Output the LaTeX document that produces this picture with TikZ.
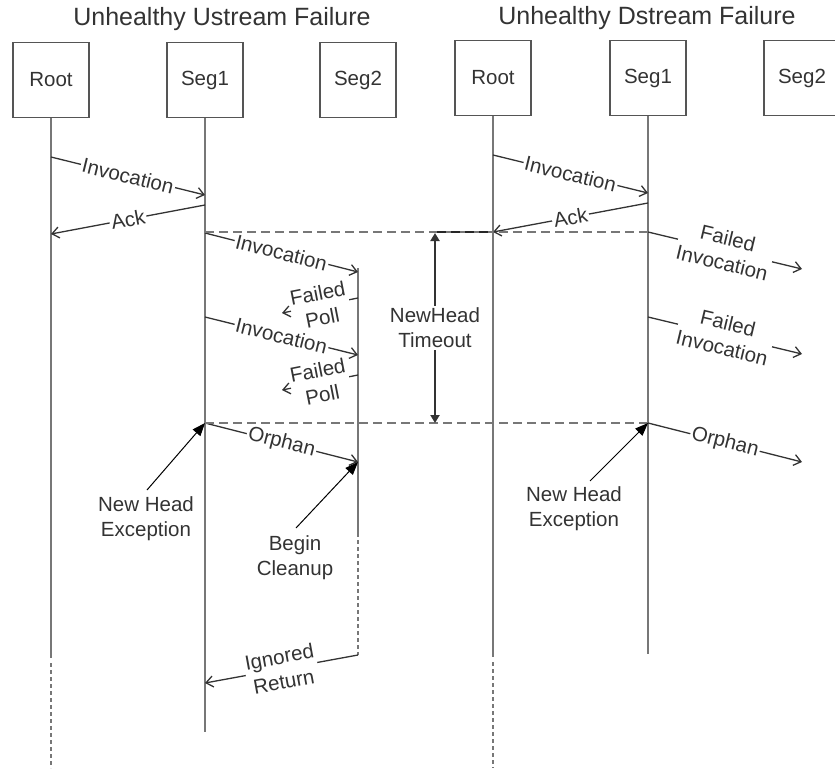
\documentclass[tikz,border=0pt]{standalone}
\usepackage{fontspec}
\setmainfont{Liberation Sans}
\usetikzlibrary{arrows.meta}
\definecolor{ink}{HTML}{333333}
\definecolor{lifec}{HTML}{777777}
\definecolor{framec}{HTML}{555555}
\definecolor{msgc}{HTML}{333333}

\begin{document}
\begin{tikzpicture}[x=1pt,y=-1pt,
  every node/.style={text=ink, font=\fontsize{20.5}{25}\selectfont},
  heading/.style={font=\fontsize{25}{30}\selectfont},
  actor/.style={draw=framec, line width=1.6pt, minimum width=76pt, minimum height=75pt, inner sep=0pt},
  lifeline/.style={draw=lifec, line width=2pt},
  lifedash/.style={draw=lifec, line width=2pt, dash pattern=on 4pt off 3pt},
  msgline/.style={draw=msgc, line width=1.3pt, -{Straight Barb[length=7pt,width=11pt,line width=1.3pt]}},
  tag/.style={fill=white, inner sep=1.5pt, sloped, align=center},
  guide/.style={draw=lifec, line width=2pt, dash pattern=on 9pt off 5pt},
  darkguide/.style={draw=black!85, line width=1.5pt, dash pattern=on 9pt off 5pt},
  callout/.style={draw=black, line width=1pt, -{Triangle[length=13pt,width=10pt]}},
  spanarrow/.style={draw=black!80, line width=2pt, {Triangle[length=8pt,width=9pt]}-{Triangle[length=8pt,width=9pt]}},
]
\useasboundingbox (0,0) rectangle (835,771);
\clip (0,0) rectangle (835,771);

% ---------- titles ----------
\node[heading] (titleA) at (222,19) {Unhealthy Ustream Failure};
\node[heading] (titleB) at (647,18) {Unhealthy Dstream Failure};

% ---------- participants ----------
\node[actor] (rootA) at (51,80)  {Root};
\node[actor] (seg1A) at (205,80) {Seg1};
\node[actor] (seg2A) at (358,80) {Seg2};
\node[actor] (rootB) at (493,78) {Root};
\node[actor] (seg1B) at (648,78) {Seg1};
\node[actor] (seg2B) at (802,78) {Seg2};

% ---------- lifelines, upstream case ----------
\coordinate (rootAend) at (51,658);
\coordinate (rootAdash) at (51,663);
\coordinate (rootAtail) at (51,768);
\coordinate (seg1Aend) at (205,732);
\coordinate (seg2Atop) at (358,268);
\coordinate (seg2Aend) at (358,537);
\coordinate (seg2Adash) at (358,540);
\coordinate (seg2Atail) at (358,655);
\draw[lifeline] (rootA.south) -- (rootAend);
\draw[lifedash] (rootAdash) -- (rootAtail);
\draw[lifeline] (seg1A.south) -- (seg1Aend);
\draw[lifeline] (seg2Atop) -- (seg2Aend);
\draw[lifedash] (seg2Adash) -- (seg2Atail);

% ---------- lifelines, downstream case ----------
\coordinate (rootBend) at (493,657);
\coordinate (rootBdash) at (493,662);
\coordinate (rootBtail) at (493,768);
\coordinate (seg1Bend) at (648,654);
\draw[lifeline] (rootB.south) -- (rootBend);
\draw[lifedash] (rootBdash) -- (rootBtail);
\draw[lifeline] (seg1B.south) -- (seg1Bend);

% ---------- messages, upstream case ----------
\coordinate (a1s) at (51,157);  \coordinate (a1e) at (205,195);
\coordinate (a2s) at (205,205); \coordinate (a2e) at (51,234);
\coordinate (a3s) at (205,233); \coordinate (a3e) at (358,272);
\coordinate (a4s) at (358,298); \coordinate (a4e) at (282,313);
\coordinate (a5s) at (205,317); \coordinate (a5e) at (358,355);
\coordinate (a6s) at (358,375); \coordinate (a6e) at (282,390);
\coordinate (a7s) at (205,423); \coordinate (a7e) at (358,462);
\coordinate (a8s) at (358,655); \coordinate (a8e) at (205,683);
\draw[msgline] (a1s) -- node[tag] {Invocation} (a1e);
\draw[msgline] (a2s) -- node[tag] {Ack} (a2e);
\draw[msgline] (a3s) -- node[tag] {Invocation} (a3e);
\draw[msgline] (a4s) -- node[tag] {Failed\\Poll} (a4e);
\draw[msgline] (a5s) -- node[tag] {Invocation} (a5e);
\draw[msgline] (a6s) -- node[tag] {Failed\\Poll} (a6e);
\draw[msgline] (a7s) -- node[tag] {Orphan} (a7e);
\draw[msgline] (a8s) -- node[tag] {Ignored\\Return} (a8e);

% ---------- messages, downstream case ----------
\coordinate (b1s) at (493,155); \coordinate (b1e) at (648,193);
\coordinate (b2s) at (648,203); \coordinate (b2e) at (493,232);
\coordinate (b3s) at (648,232); \coordinate (b3e) at (802,269);
\coordinate (b4s) at (648,317); \coordinate (b4e) at (802,354);
\coordinate (b5s) at (648,423); \coordinate (b5e) at (802,462);
\draw[msgline] (b1s) -- node[tag] {Invocation} (b1e);
\draw[msgline] (b2s) -- node[tag] {Ack} (b2e);
\draw[msgline] (b3s) -- node[tag] {Failed\\Invocation} (b3e);
\draw[msgline] (b4s) -- node[tag] {Failed\\Invocation} (b4e);
\draw[msgline] (b5s) -- node[tag] {Orphan} (b5e);

% ---------- timeout window ----------
\coordinate (gTopL) at (205,232); \coordinate (gTopR) at (648,232);
\coordinate (gBotL) at (205,423); \coordinate (gBotR) at (648,423);
\coordinate (gTopMid) at (437,232);
\draw[guide] (gTopL) -- (gTopR);
\draw[guide] (gBotL) -- (gBotR);
\draw[darkguide] (gTopMid) -- (b2e);
\coordinate (spanTop) at (435,233);
\coordinate (spanBot) at (435,423);
\draw[spanarrow] (spanTop) -- node[fill=white, inner sep=2pt, align=center] {NewHead\\Timeout} (spanBot);

% ---------- callouts ----------
\node[align=center] (exA) at (146,519) {New Head\\Exception};
\node[align=center] (clean) at (295,558) {Begin\\Cleanup};
\node[align=center] (exB) at (574,509) {New Head\\Exception};
\coordinate (exAfrom) at (147,490);
\coordinate (cleanfrom) at (296,528);
\coordinate (exBfrom) at (590,481);
\draw[callout] (exAfrom) -- (a7s);
\draw[callout] (cleanfrom) -- (a7e);
\draw[callout] (exBfrom) -- (b5s);
\end{tikzpicture}
\end{document}
